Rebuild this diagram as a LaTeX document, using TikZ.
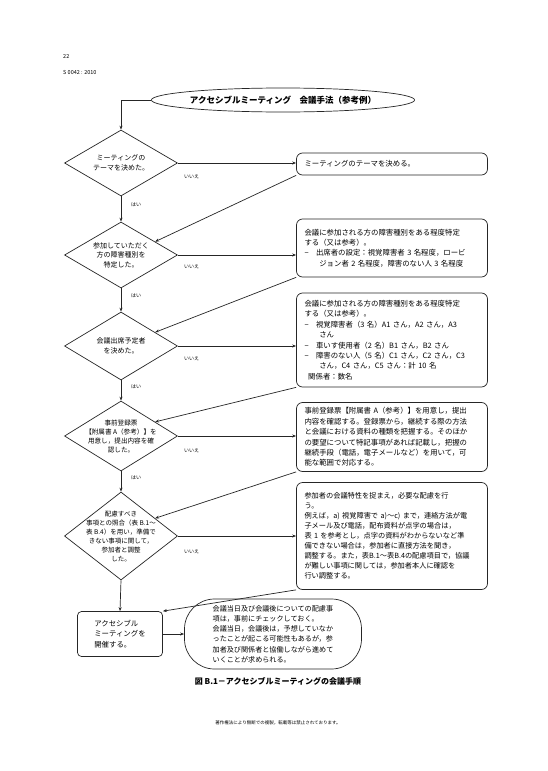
\documentclass[tikz,border=0pt]{standalone}
\usepackage{fontspec}
\setmainfont{Noto Sans CJK JP}
\usetikzlibrary{shapes.geometric,arrows.meta,calc}
\tikzset{
  ln/.style={line width=0.7pt, draw=black!85},
  arr/.style={ln, -{Stealth[length=4pt,width=3pt]}},
  dia/.style={ln, shape=diamond, inner sep=0pt, minimum width=113pt},
  dtext/.style={align=center, font=\fontsize{7}{9.5}\selectfont, inner sep=0pt},
  infobox/.style={ln, rounded corners=6pt, text width=175pt, inner xsep=8pt, align=left,
     font=\fontsize{7.4}{10.4}\selectfont},
  yes/.style={font=\fontsize{5}{6}\selectfont, anchor=west, inner sep=0pt},
}
\begin{document}
\begin{tikzpicture}[x=1pt,y=-1pt]
\useasboundingbox[fill=white] (0,0) rectangle (547,771);
% header
\node[anchor=west, font=\fontsize{5.5}{6}\selectfont, inner sep=0pt] (pg) at (63,57) {22};
\node[anchor=west, font=\fontsize{5.5}{6}\selectfont, inner sep=0pt] (std) at (63,72) {S 0042 : 2010};
% title
\node[ln, ellipse, inner sep=0pt, minimum width=257pt, minimum height=24pt,
      font=\bfseries\fontsize{8.5}{10}\selectfont] (title) at (283,100)
      {アクセシブルミーティング\quad 会議手法（参考例）};
% diamonds
\node[dia, minimum height=66pt] (d1) at (121,163) {};
\node[dtext] (d1t) at (d1) {ミーティングの\\テーマを決めた。};
\node[dia, minimum height=66pt] (d2) at (121,255) {};
\node[dtext] (d2t) at (d2) {参加していただく\\方の障害種別を\\特定した。};
\node[dia, minimum height=68pt] (d3) at (121,346) {};
\node[dtext] (d3t) at (d3) {会議出席予定者\\を決めた。};
\node[dia, minimum height=70pt] (d4) at (121,436) {};
\node[dtext, font=\fontsize{6.6}{9}\selectfont] (d4t) at (d4) {事前登録票\\【附属書 A（参考）】を\\用意し，提出内容を確\\認した。};
\node[dia, minimum height=88pt] (d5) at (121,536) {};
\node[dtext, font=\fontsize{6.5}{9}\selectfont] (d5t) at (d5) {配慮すべき\\事項との照合（表 B.1～\\表 B.4）を用い，準備で\\きない事項に関して，\\参加者と調整\\した。};
% boxes
\node[infobox, minimum height=22pt] (b1) at (392,164) {ミーティングのテーマを決める。};
\node[infobox, minimum height=58pt] (b2) at (392,248) {会議に参加される方の障害種別をある程度特定\\する（又は参考）。\\−\quad 出席者の設定：視覚障害者 3 名程度，ロービ\\\hspace*{2em}ジョン者 2 名程度，障害のない人 3 名程度};
\node[infobox, minimum height=94pt] (b3) at (392,340) {会議に参加される方の障害種別をある程度特定\\する（又は参考）。\\−\quad 視覚障害者（3 名）A1 さん，A2 さん，A3\\\hspace*{2em}さん\\−\quad 車いす使用者（2 名）B1 さん，B2 さん\\−\quad 障害のない人（5 名）C1 さん，C2 さん，C3\\\hspace*{2em}さん，C4 さん，C5 さん：計 10 名\\\hspace*{0.5em}関係者：数名};
\node[infobox, minimum height=69pt] (b4) at (392,437) {事前登録票【附属書 A（参考）】を用意し，提出\\内容を確認する。登録票から，継続する際の方法\\と会議における資料の種類を把握する。そのほか\\の要望について特記事項があれば記載し，把握の\\継続手段（電話，電子メールなど）を用いて，可\\能な範囲で対応する。};
\node[infobox, minimum height=107pt, font=\fontsize{7.2}{10}\selectfont] (b5) at (392,536) {参加者の会議特性を捉まえ，必要な配慮を行\\う。\\例えば，a)~視覚障害で~a)～c)~まで，連絡方法が電\\子メール及び電話，配布資料が点字の場合は，\\表~1~を参考とし，点字の資料がわからないなど準\\備できない場合は，参加者に直接方法を聞き，\\調整する。また，表B.1～表B.4の配慮項目で，協議\\が難しい事項に関しては，参加者本人に確認を\\行い調整する。};
% final step
\node[ln, rounded corners=4pt, minimum width=85pt, minimum height=45pt, align=left,
      font=\fontsize{7.4}{10.4}\selectfont] (r6) at (120,634) {アクセシブル\\ミーティングを\\開催する。};
\node[ln, rounded corners=30pt, minimum width=177pt, minimum height=70pt, align=left,
      font=\fontsize{7.1}{10.2}\selectfont] (s6) at (273,634) {会議当日及び会議後についての配慮事\\項は，事前にチェックしておく。\\会議当日，会議後は，予想していなか\\ったことが起こる可能性もあるが，参\\加者及び関係者と協働しながら進めて\\いくことが求められる。};
% caption & footer
\node[font=\bfseries\fontsize{8}{10}\selectfont] (cap) at (278,681) {図 B.1－アクセシブルミーティングの会議手順};
\node[font=\fontsize{4.5}{6}\selectfont] (foot) at (278,723) {著作権法により無断での複製，転載等は禁止されております。};
% connectors
\draw[arr] (title.west) -| (d1.north);
\foreach \d/\b in {d1/b1,d2/b2,d3/b3,d4/b4,d5/b5}{
  \draw[arr] (\d.east) -- (\d.east -| \b.west);
}
\draw[arr] (d1.south) -- (d2.north);
\draw[arr] (d2.south) -- (d3.north);
\draw[arr] (d3.south) -- (d4.north);
\draw[arr] (d4.south) -- (d5.north);
\draw[arr] (d5.south) -- (r6.north);
\draw[arr] (b1.south west) -- ($(d2.north)!0.6!(d2.east)$);
\draw[arr] (b2.south west) -- ($(d3.north)!0.6!(d3.east)$);
\draw[arr] (b3.south west) -- ($(d4.north)!0.6!(d4.east)$);
\draw[arr] (b4.south west) -- ($(d5.north)!0.6!(d5.east)$);
\draw[arr] (b5.south west) -- (r6.north east);
\draw[arr] (r6.east) -- (s6.west);
% labels
\node[yes] (n1) at (184,177) {いいえ};
\node[yes] (n2) at (184,267) {いいえ};
\node[yes] (n3) at (184,359) {いいえ};
\node[yes] (n4) at (184,451) {いいえ};
\node[yes] (n5) at (184,552) {いいえ};
\node[yes] (y1) at (131,205) {はい};
\node[yes] (y2) at (131,296) {はい};
\node[yes] (y3) at (131,387) {はい};
\node[yes] (y4) at (131,478) {はい};
\end{tikzpicture}
\end{document}
